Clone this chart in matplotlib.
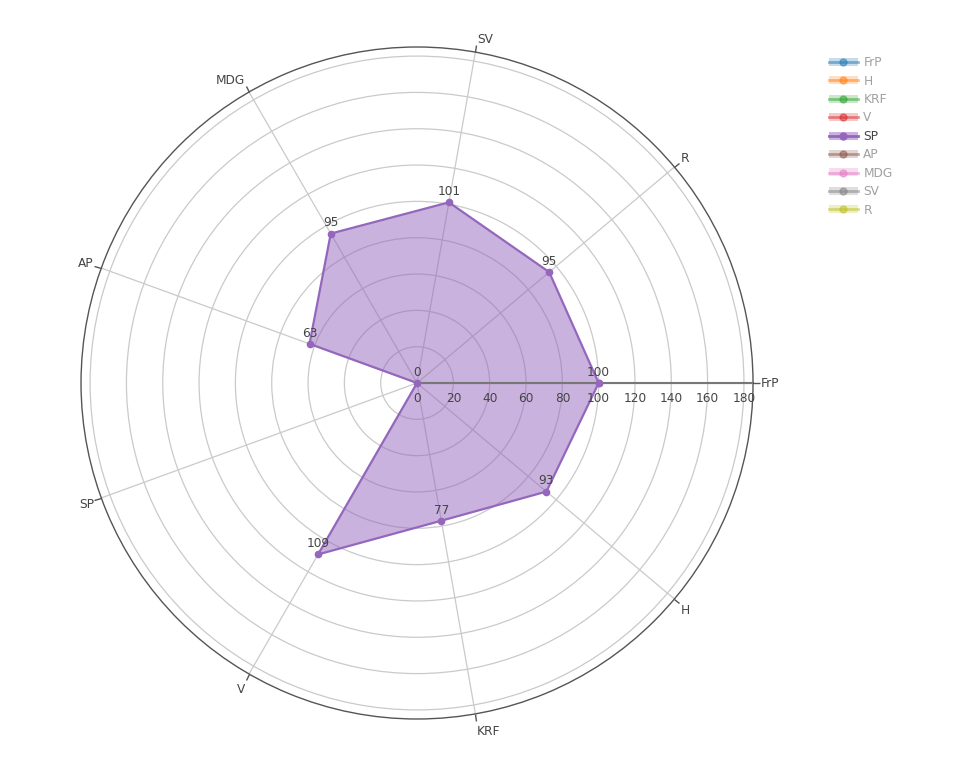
import numpy as np
import matplotlib
matplotlib.use("Agg")
import matplotlib.pyplot as plt
from matplotlib.patches import Patch
from matplotlib.lines import Line2D
from matplotlib.transforms import offset_copy

plt.rcParams['font.family'] = ['DejaVu Sans']

categories = ['FrP', 'H', 'KRF', 'V', 'SP', 'AP', 'MDG', 'SV', 'R']
sp_values = [100, 93, 77, 109, 0, 63, 95, 101, 95]
legend_names = ['FrP', 'H', 'KRF', 'V', 'SP', 'AP', 'MDG', 'SV', 'R']
legend_colors = ['#1f77b4', '#ff7f0e', '#2ca02c', '#d62728', '#9467bd',
                 '#8c564b', '#e377c2', '#7f7f7f', '#bcbd22']
active_series = 'SP'
radial_ticks = [0, 20, 40, 60, 80, 100, 120, 140, 160, 180]
r_max = 185

FS = 8.7
TXT = '#444444'
GRID = '#cacaca'
COLOR = '#9467bd'
PX = 0.72  # points per pixel at dpi 100

fig = plt.figure(figsize=(9.6, 7.68), dpi=100)
ax = fig.add_axes([0.0844, 0.0638, 0.7, 0.875], projection='polar')
ax.set_theta_offset(0)
ax.set_theta_direction(-1)

theta = np.deg2rad(np.arange(len(categories)) * 360.0 / len(categories))

ax.set_ylim(0, r_max)
ax.set_yticks(radial_ticks[1:])
ax.set_yticklabels([])
ax.set_xticks(theta)
ax.set_xticklabels([])
ax.grid(True, color=GRID, lw=0.9)
ax.spines['polar'].set_color('#555555')
ax.spines['polar'].set_linewidth(1.0)
ax.xaxis.set_tick_params(which='major', direction='out', length=5, width=1,
                         color='#555555', tick1On=False, tick2On=True)
ax.tick_params(axis='y', length=0)

# radial axis line
ax.axvline(0, color='#777777', lw=1.5, zorder=4)
# radial tick labels below the axis line
for t in radial_ticks:
    tr = offset_copy(ax.transData, fig=fig, x=0, y=-6.5, units='points')
    ax.text(0, t, str(t), ha='center', va='top', fontsize=FS, color=TXT,
            transform=tr, zorder=6)

# angular labels
for th, lab in zip(theta, categories):
    sa = -th
    c, s = np.cos(sa), np.sin(sa)
    ha = 'left' if c > 0.15 else ('right' if c < -0.15 else 'center')
    dx = 8 * c
    dy = 8 * s + (5 * s if s > 0 else 10 * s)
    tr = offset_copy(ax.transData, fig=fig, x=dx * PX, y=dy * PX, units='points')
    ax.text(th, r_max, lab, ha=ha, va='center', fontsize=FS, color=TXT,
            transform=tr, clip_on=False)

# data trace
th_closed = np.r_[theta, theta[:1]]
v_closed = np.r_[sp_values, sp_values[:1]]
ax.fill(th_closed, v_closed, color=COLOR, alpha=0.5, lw=0, zorder=3)
ax.plot(th_closed, v_closed, color=COLOR, lw=1.6, marker='o', ms=4.5, zorder=5)
for th, v in zip(theta, sp_values):
    tr = offset_copy(ax.transData, fig=fig, x=0, y=3.0, units='points')
    ax.text(th, v, str(v), ha='center', va='bottom', fontsize=FS, color=TXT,
            transform=tr, zorder=7)

# legend
handles = []
for name, col in zip(legend_names, legend_colors):
    a = 1.0 if name == active_series else 0.5
    p = Patch(facecolor=col, alpha=0.5 * a, lw=0)
    l = Line2D([], [], color=col, lw=2, marker='o', ms=5, alpha=a)
    handles.append((p, l))
leg = fig.legend(handles, legend_names, loc='upper left',
                 bbox_to_anchor=(0.8635, 0.927), frameon=False, fontsize=FS,
                 handlelength=2.4, handleheight=0.65, handletextpad=0.45,
                 labelspacing=0.45, borderaxespad=0, borderpad=0)
for txt, name in zip(leg.get_texts(), legend_names):
    txt.set_color(TXT if name == active_series else '#a0a0a0')

fig.savefig('out.png', dpi=100)
